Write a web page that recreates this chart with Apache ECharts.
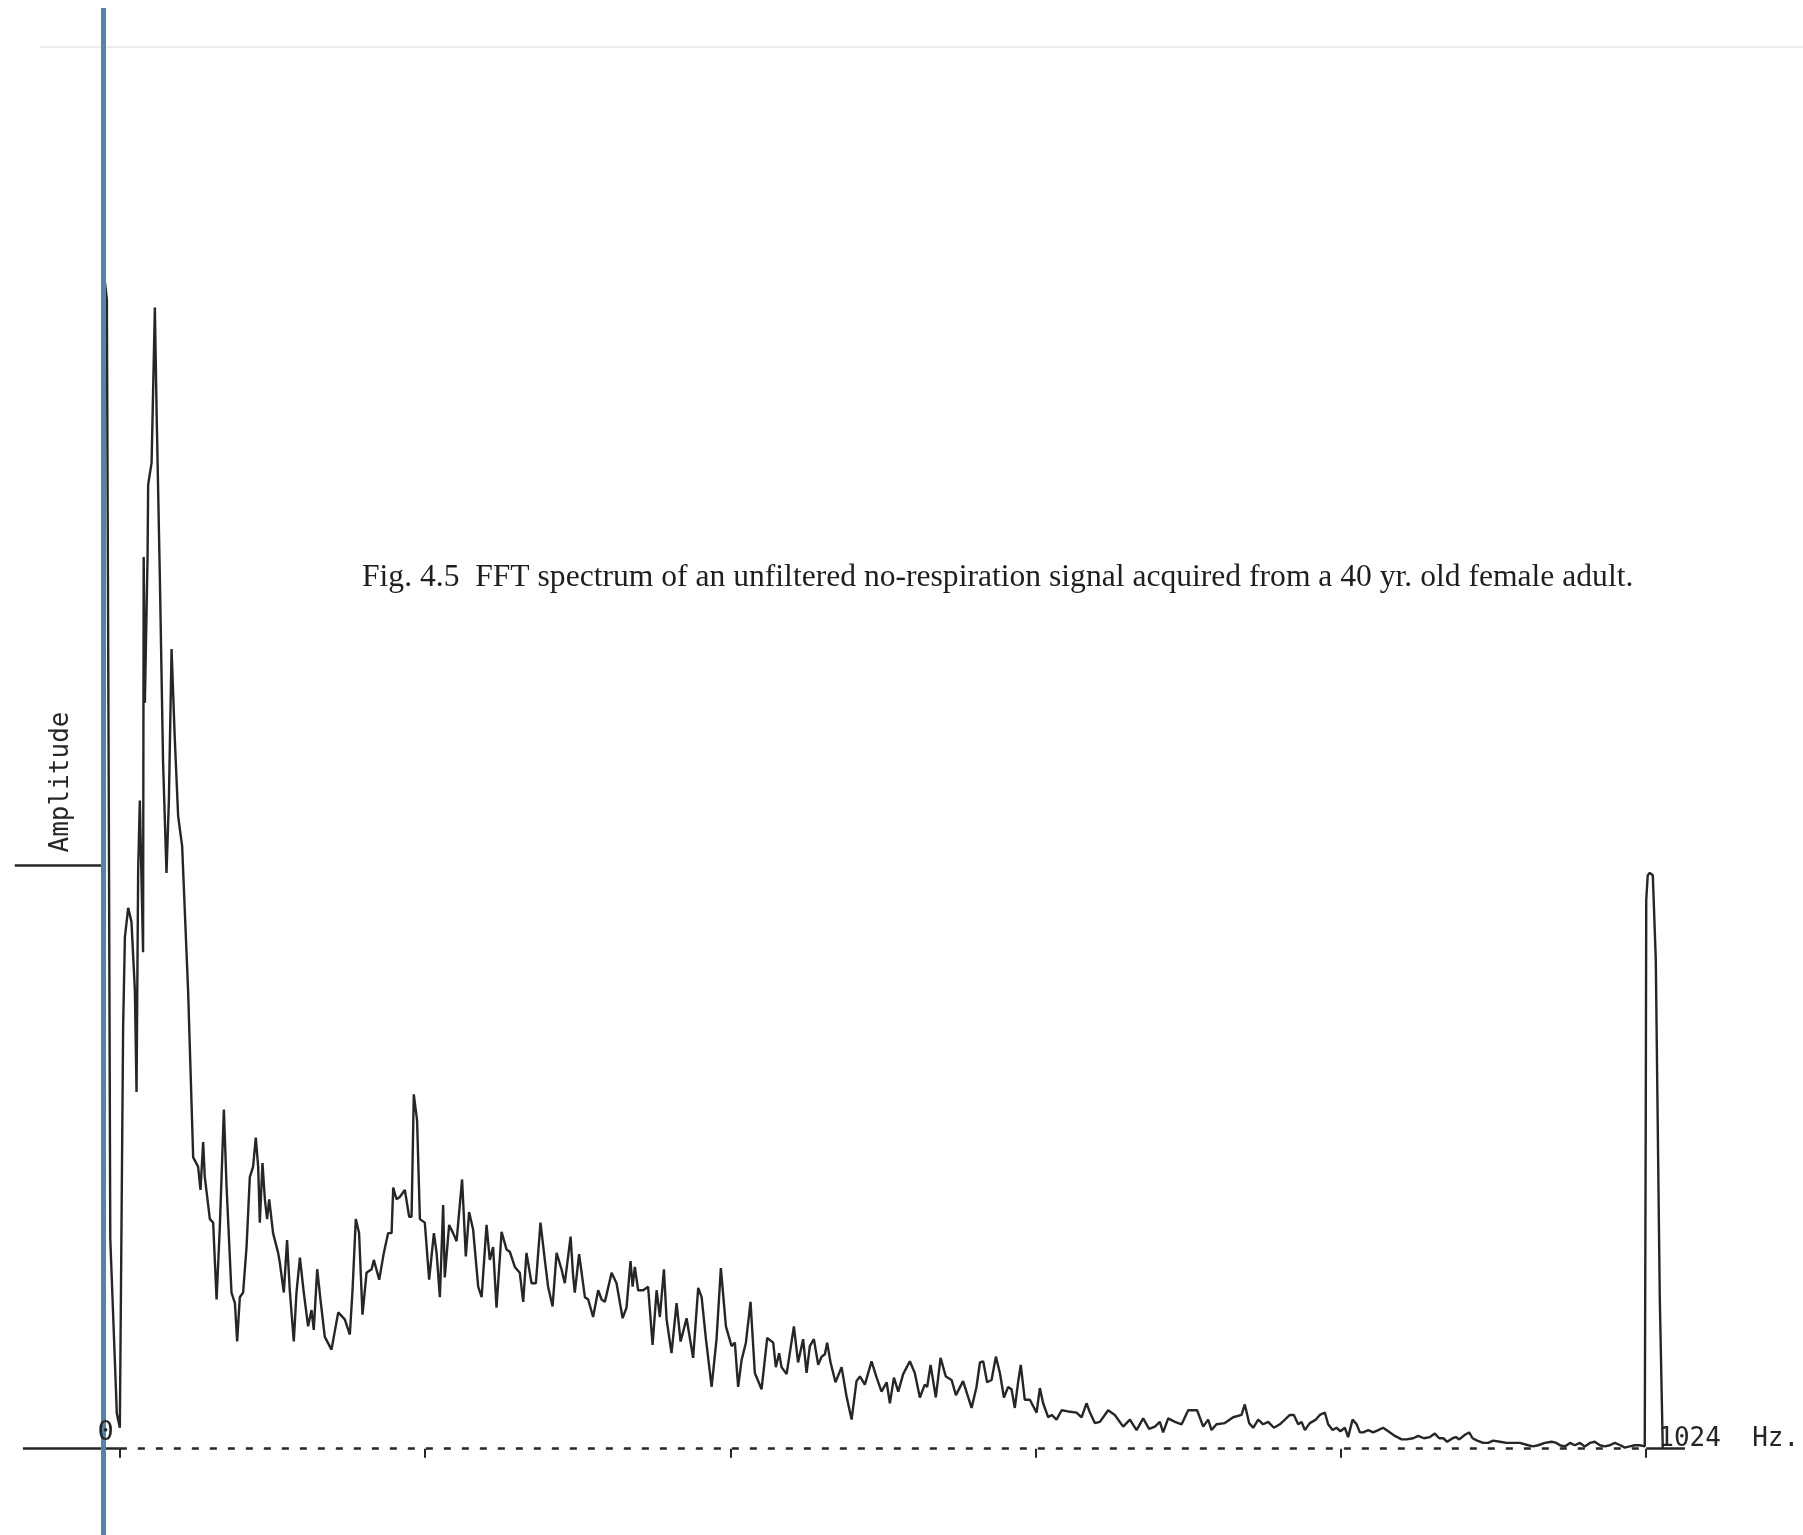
<!DOCTYPE html>
<html><head><meta charset="utf-8">
<script src="https://cdn.jsdelivr.net/npm/echarts@6/dist/echarts.min.js"></script>
<style>html,body{margin:0;padding:0;background:#fff}#c{width:1803px;height:1535px}</style>
</head><body><div id="c"></div>
<script>
// ---- data ----
const freqHz = [
-10.7,-10.1,-8.7,-7.4,-6.4,-2.0,0,1.3,2.2,3.4,5.6,7.8,10.1,11.2,12.3,13.4,15.6,16.0,16.8,18.6,19.0,
21.3,23.5,24.6,26.8,29.0,31.3,32.9,34.7,36.9,39.1,41.8,45.8,49.2,50.3,52.5,54.1,55.9,57.0,60.4,62.6,
64.9,67.1,69.8,71.6,74.9,77.2,78.7,80.5,82.7,85.0,87.2,89.4,91.2,92.8,93.9,95.7,97.3,98.8,100.2,102.8,
106.2,107.3,110.0,112.2,114.0,116.7,118.5,120.8,123.4,126.3,128.6,130.1,132.4,134.6,137.5,142.0,146.5,150.9,154.3,156.1,
158.3,160.5,162.8,165.5,168.9,170.4,174.0,177.1,180.0,182.3,183.4,185.6,187.8,191.2,194.1,195.7,197.2,199.4,201.3,204.6,
207.5,210.7,212.5,214.7,216.9,218.0,220.9,223.6,225.9,229.6,232.1,234.3,237.0,240.4,242.7,246.0,248.2,250.4,252.7,256.1,
259.4,261.6,265.0,268.3,270.6,272.8,276.2,279.1,282.2,285.1,287.3,290.3,293.0,296.3,298.5,302.4,304.1,305.2,308.1,312.0,
314.2,317.5,320.9,323.2,325.4,329.9,333.2,337.3,339.9,342.6,344.0,345.5,347.7,351.1,354.4,357.4,360.1,362.3,365.0,366.8,
370.1,373.5,376.2,380.2,384.6,388.0,390.3,393.2,397.0,400.3,403.2,406.6,410.4,412.6,414.8,417.1,420.0,423.1,426.0,430.5,
434.3,438.3,440.1,442.3,443.9,447.3,452.2,455.0,458.4,460.7,462.9,465.6,468.5,470.8,473.0,474.5,476.8,480.1,484.2,487.5,
490.9,494.2,496.5,499.8,504.3,507.7,511.0,514.4,516.6,519.3,522.2,525.5,530.0,533.3,536.7,540.0,541.6,543.9,547.4,550.6,
554.1,558.0,560.9,565.7,571.4,574.7,577.0,579.2,581.8,584.8,587.7,590.4,593.1,595.9,598.2,600.4,602.6,604.4,607.1,610.5,
615.0,617.2,619.4,622.8,625.1,628.4,631.8,636.2,641.8,645.2,648.5,650.8,654.1,657.5,663.0,667.5,673.1,677.6,682.1,686.5,
690.5,694.4,697.7,699.9,703.3,707.8,712.3,716.7,722.7,726.8,730.1,732.4,735.7,741.3,746.9,752.5,754.7,757.6,760.3,763.7,
767.0,770.4,774.2,778.2,781.6,784.9,787.6,790.5,792.8,795.0,798.3,802.4,805.0,808.4,810.6,813.6,816.2,818.9,821.8,824.0,
827.0,829.7,831.9,834.1,837.5,840.8,844.2,847.5,850.9,855.4,859.9,863.2,867.7,871.0,874.8,878.9,882.2,885.1,887.8,890.5,
894.1,896.3,898.5,902.4,905.2,907.5,910.6,914.6,918.0,921.3,925.8,930.3,934.7,939.2,944.8,948.1,951.5,956.0,960.5,963.8,
966.1,969.4,972.8,976.1,979.5,982.8,986.2,989.5,992.9,996.2,999.6,1002.9,1006.7,1009.6,1012.9,1016.3,1019.7,1023.0,1023.7,1024.0,
1025.0,1026.4,1028.4,1030.4,1033.1,1035.1
];
const amplitude = [
0,100.2,98.6,55.0,18.0,3.0,1.8,1.8,36.1,43.9,46.4,45.2,39.3,30.6,49.7,55.6,42.6,76.5,64.0,76.5,82.7,
84.6,97.9,89.4,75.1,58.9,49.4,55.6,68.6,60.8,54.3,51.7,39.3,25.0,25.1,24.2,22.2,26.3,23.3,19.7,19.4,
12.8,19.1,29.1,22.5,13.4,12.5,9.2,13.0,13.4,17.3,23.3,24.2,26.7,24.2,19.4,24.5,21.4,19.7,21.4,18.5,
16.8,16.0,13.4,17.9,13.6,9.2,13.4,16.4,13.4,10.5,11.9,10.2,15.4,12.8,9.6,8.5,11.7,11.1,9.8,13.6,
19.7,18.5,11.5,15.1,15.4,16.2,14.5,16.8,18.5,18.5,22.4,21.4,21.6,22.2,19.9,19.9,30.4,28.2,19.7,19.4,
14.5,18.5,16.8,13.0,20.9,14.7,19.2,18.5,17.8,23.1,16.5,20.3,18.8,13.9,13.0,19.2,16.2,17.3,12.1,18.6,
17.1,16.9,15.6,15.1,12.6,16.8,14.2,14.2,19.4,16.2,13.9,12.2,16.8,15.4,14.2,18.2,14.8,13.4,16.7,13.0,
12.8,11.3,13.6,12.8,12.6,15.1,14.2,11.2,12.1,16.1,13.9,15.6,13.6,13.6,13.9,8.9,13.6,11.3,15.4,11.1,
8.2,12.5,9.2,11.2,7.8,13.8,13.0,9.4,5.3,9.4,15.5,10.5,8.8,9.1,5.3,7.6,9.1,12.6,6.5,5.1,
9.5,9.1,7.0,8.2,7.0,6.4,10.5,7.4,9.4,6.5,8.8,9.4,7.2,7.9,8.1,9.1,7.4,5.7,7.0,4.5,
2.5,5.8,6.2,5.5,7.5,6.1,4.9,5.7,3.9,6.1,4.9,6.4,7.5,6.5,4.4,5.5,5.3,7.2,4.4,7.8,
6.2,5.9,4.6,5.8,3.5,5.3,7.4,7.5,5.7,5.9,7.9,6.5,4.4,5.3,5.1,3.5,5.7,7.2,4.2,4.2,
3.1,5.2,3.9,2.7,2.9,2.5,3.3,3.2,3.1,2.7,3.9,3.1,2.2,2.3,3.3,2.9,1.9,2.5,1.6,2.6,
1.7,1.9,2.3,1.4,2.6,2.3,2.1,3.3,3.3,1.9,2.5,1.6,2.1,2.2,2.7,2.9,3.8,2.2,1.8,2.5,
2.1,2.3,1.8,2.1,2.5,2.9,2.9,2.1,2.3,1.6,2.2,2.5,2.9,3.1,2.1,1.6,1.8,1.5,1.8,1.0,
2.5,2.1,1.4,1.4,1.6,1.4,1.6,1.8,1.5,1.1,0.8,0.8,0.9,1.1,0.9,1.0,1.3,0.9,0.9,0.6,
0.9,1.0,0.8,1.2,1.4,0.9,0.7,0.5,0.5,0.7,0.6,0.5,0.5,0.5,0.3,0.2,0.3,0.5,0.6,0.5,
0.3,0.2,0.5,0.3,0.5,0.2,0.5,0.6,0.3,0.2,0.3,0.5,0.3,0.1,0.2,0.3,0.3,0.2,30.0,47.1,
49.2,49.4,49.2,42.0,12.8,0
];
const tickFreqs = [0, 204.8, 409.6, 614.4, 819.2, 1024];
const endLabels = [ { freq: 0, text: '0' }, { freq: 1024, text: '1024  Hz.' } ];
const caption = 'Fig. 4.5  FFT spectrum of an unfiltered no-respiration signal acquired from a 40 yr. old female adult.';
const yTitle = 'Amplitude';
const axisLeftEnd = -65;     // Hz where the drawn baseline starts
const axisRightEnd = 1050;   // Hz where the drawn baseline ends
const ruleFreq = -11;        // vertical blue rule
const bracketFrom = -70.5;   // amplitude bracket
const bracketAmp = 50.1;

// ---- chart ----
const ink = '#262626';
const chart = echarts.init(document.getElementById('c'), null, { renderer: 'canvas' });
const pts = freqHz.map((f, i) => [f, amplitude[i]]);
const solid = { color: ink, width: 2.5, type: 'solid' };
const monoLabel = { fontFamily: 'DejaVu Sans Mono', fontSize: 26, color: ink };

chart.setOption({
  animation: false,
  backgroundColor: '#ffffff',
  grid: { left: 14, right: 118, top: 8, bottom: 0, containLabel: false },
  xAxis: {
    type: 'value', min: -71, max: 1050,
    axisLine: { show: false, onZero: true },
    axisTick: { show: true, customValues: tickFreqs, length: 9, lineStyle: { color: ink, width: 2 } },
    axisLabel: { show: false },
    splitLine: { show: false }
  },
  yAxis: {
    type: 'value', min: -7.4, max: 123.6,
    axisLine: { show: false }, axisTick: { show: false }, axisLabel: { show: false }, splitLine: { show: false }
  },
  graphic: [
    { type: 'line', silent: true, shape: { x1: 40, y1: 47, x2: 1803, y2: 47 }, style: { stroke: '#ececec', lineWidth: 2 } },
    { type: 'text', x: 362, y: 578, silent: true,
      style: { text: caption, fontFamily: 'Liberation Serif', fontSize: 31.6, fill: '#1e1e1e', align: 'left', verticalAlign: 'middle' } },
    { type: 'text', x: 61, y: 782, rotation: Math.PI / 2, silent: true,
      style: { text: yTitle, fontFamily: 'DejaVu Sans Mono', fontSize: 26, fill: ink, align: 'center', verticalAlign: 'middle' } }
  ],
  series: [{
    type: 'line',
    data: pts,
    symbol: 'none', showSymbol: false, smooth: false, clip: false,
    lineStyle: { color: ink, width: 2.4 },
    z: 2,
    markPoint: {
      silent: true, animation: false, symbol: 'rect', symbolSize: 0,
      data: [
        { coord: [endLabels[0].freq, 0],
          label: Object.assign({ show: true, formatter: endLabels[0].text, position: [-6, -2], align: 'right', verticalAlign: 'bottom', fontSize: 27 }, { fontFamily: monoLabel.fontFamily, color: ink }) },
        { coord: [endLabels[1].freq, 0],
          label: Object.assign({ show: true, formatter: endLabels[1].text, position: [12, 4], align: 'left', verticalAlign: 'bottom' }, monoLabel) }
      ]
    },
    markLine: {
      silent: true, symbol: ['none', 'none'], label: { show: false }, animation: false,
      emphasis: { disabled: true },
      data: [
        [{ coord: [axisLeftEnd, 0], lineStyle: solid }, { coord: [0, 0] }],
        [{ coord: [0, 0], lineStyle: { color: ink, width: 2.5, type: [7, 11] } }, { coord: [1024, 0] }],
        [{ coord: [1024, 0], lineStyle: solid }, { coord: [axisRightEnd, 0] }],
        [{ coord: [bracketFrom, bracketAmp], lineStyle: solid }, { coord: [ruleFreq, bracketAmp] }],
        { xAxis: ruleFreq, lineStyle: { color: '#5782ad', width: 5, type: 'solid' } }
      ]
    }
  }]
});
</script></body></html>
